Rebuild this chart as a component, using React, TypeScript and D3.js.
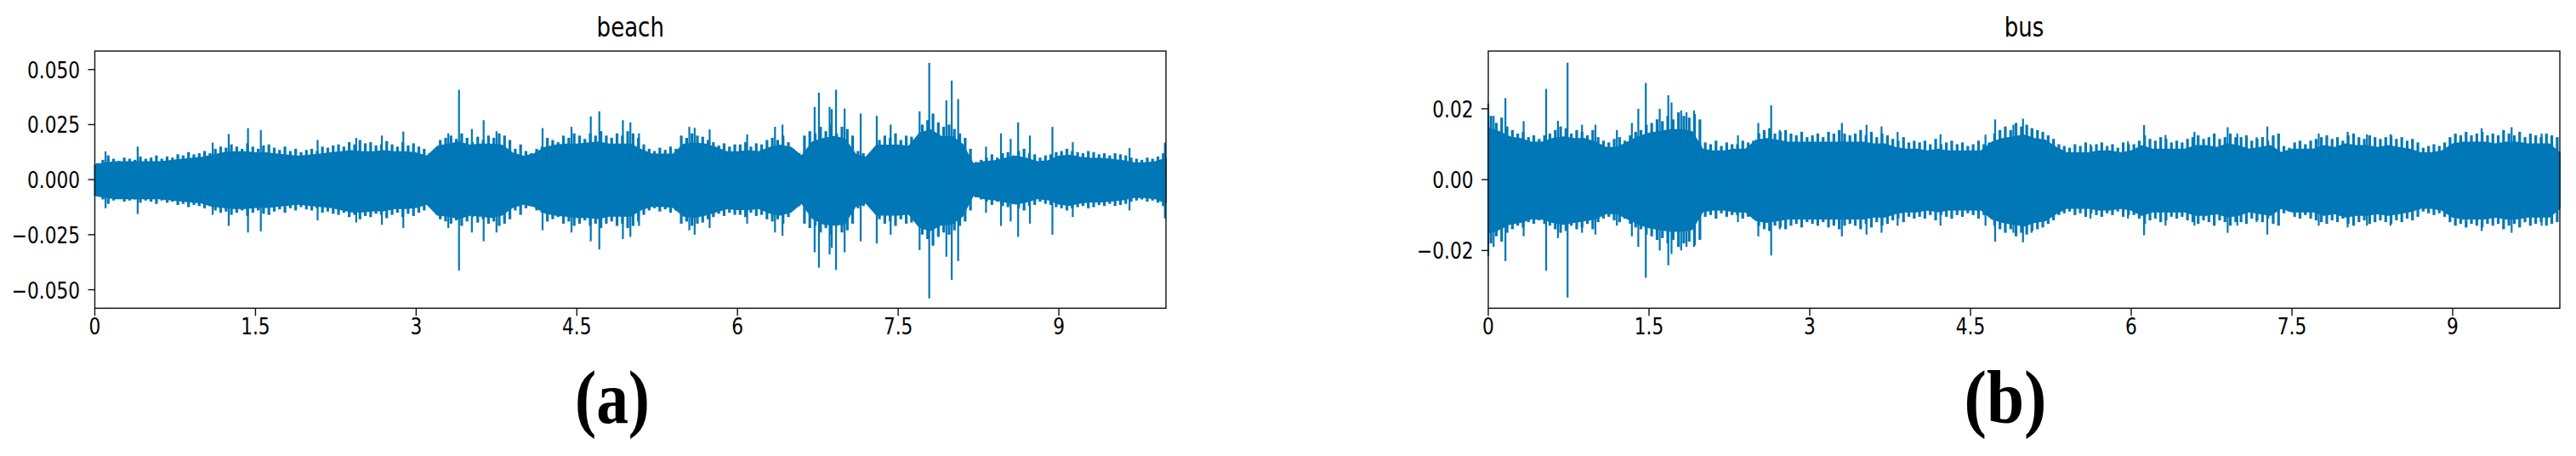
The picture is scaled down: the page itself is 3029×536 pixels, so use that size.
import React from 'react';
import * as d3 from 'd3';

// All amplitude values below are in units of 0.001
const UNIT = 0.001;
const CORE_STEP = 0.1; // seconds between readings of the dense core band
const JAG_STEP = 0.05; // seconds between readings of the fine ragged edge
const JAG_OFFSET = 0.025;

const xTickValues = [0, 1.5, 3, 4.5, 6, 7.5, 9];
const xTickLabels = ['0', '1.5', '3', '4.5', '6', '7.5', '9'];

const beachYTicks = [-0.05, -0.025, 0, 0.025, 0.05];
const busYTicks = [-0.02, 0, 0.02];

// ---------- beach ----------
// dense core band, every 0.1 s from 0 to 10 s
const beachCoreUpper = [
  6.5, 7.5, 8, 8, 8, 8, 8, 8.5, 9, 9.5,
  10, 11, 12, 12.5, 12.5, 12, 12, 11.5, 11, 10.5,
  11, 11.5, 12, 12.5, 13, 12.5, 12.5, 13, 12.5, 12.5,
  12, 10.5, 15, 16, 17, 15.5, 16, 16, 15.5, 12,
  10.5, 11.5, 14.5, 15.5, 16, 16, 16.5, 17, 16, 16,
  16, 13.5, 11.5, 11.5, 11.5, 16, 16.5, 16, 14.5, 12.5,
  12.5, 13, 12.5, 14.5, 15.5, 14.5, 10.5, 17, 18.5, 19.5,
  18.5, 11.5, 10, 15.5, 15.5, 15.5, 15, 21, 22.5, 19.5,
  19.5, 16, 7, 8, 8.5, 9.5, 10.5, 9.5, 8, 8.5,
  10.5, 11, 10, 9.5, 9.5, 9, 8.5, 7.5, 7.5, 8,
  9.5,
];
const beachCoreLower = [
  7, 8, 8.5, 8.5, 8.5, 8.5, 8.5, 9, 9.5, 10,
  10.5, 12, 12.5, 13, 13, 12.5, 12.5, 12, 11.5, 11,
  11.5, 12, 12.5, 13.5, 14.5, 14.5, 14, 14, 13, 13,
  12.5, 11, 16, 16.5, 17.5, 16, 16.5, 17, 16, 12.5,
  11, 12, 15, 16, 16.5, 17, 17, 17.5, 16.5, 16.5,
  16.5, 13.5, 12, 12, 12.5, 16.5, 17, 16, 14.5, 13,
  13.5, 13.5, 13, 15, 16, 14.5, 10.5, 17.5, 20, 20.5,
  20, 12, 10.5, 16, 16, 16, 15.5, 21.5, 23, 20.5,
  20, 16.5, 7, 8.5, 9, 10, 11, 10, 8.5, 9,
  11, 11.5, 10.5, 10, 10, 9.5, 9, 8, 8, 8.5,
  10.5,
];
// ragged edge, every 0.05 s starting at 0.025 s
const beachJags = [
  7.5, 9, 11, 9.5, 8.5, 10, 9.5, 9, 10.5, 9.5, 10, 11, 9.5, 10.5, 10, 11.5, 11, 12.5, 11.5, 12,
  13, 12, 14, 15, 14.5, 16, 15, 14, 16.5, 15, 14, 15.5, 16, 14.5, 13.5, 15, 13, 14, 12.5, 13.5,
  14, 13, 15, 14.5, 15.5, 16, 15, 17, 16, 18, 16.5, 17, 15.5, 16, 17.5, 16, 15, 17, 15.5, 16.5,
  15, 14, 12, 11, 18, 19, 20, 18.5, 21, 19, 17, 19.5, 18, 20, 19, 21, 20, 18, 14, 16,
  13, 12, 14, 15, 19, 18, 17, 20, 19, 21, 20, 18.5, 21, 20, 22, 20, 19, 21, 20, 22,
  21, 19, 16, 14, 13, 14.5, 13.5, 15, 14, 20, 19, 21, 20, 19.5, 18, 17, 15.5, 16.5, 15, 16,
  16, 17, 15, 16.5, 16, 18, 19, 18, 20, 17, 13, 12, 20, 22, 21, 24, 22, 25, 21, 24,
  23, 20, 13, 12, 11, 12.5, 18, 20, 19, 21, 18, 20, 19.5, 18, 25, 27, 30, 26, 24, 25,
  23, 21, 19, 14, 8, 9, 10, 11.5, 10, 12, 12.5, 11, 13, 14, 12, 11.5, 10, 11, 11.5, 12.5,
  13, 14, 13, 12.5, 12, 13, 12.5, 11.5, 12, 11, 12, 11.5, 11, 10, 9.5, 9, 10, 9.5, 10.5, 12,
];
// isolated peaks [time s, top, bottom]
const beachPeaks: [number, number, number][] = [
  [0.1, 12.8, -13], [0.4, 15, -15.6], [1.1, 16.8, -16], [1.25, 20.7, -21],
  [1.43, 23.4, -24], [1.55, 22.5, -23.5], [2.08, 18, -18.5], [2.44, 19, -19.5],
  [2.68, 20, -20.5], [2.88, 21.8, -22], [3.3, 21, -22], [3.4, 40.8, -41.3],
  [3.52, 23, -24], [3.63, 27, -28], [3.75, 22, -24], [4.18, 23.4, -23],
  [4.45, 24, -24], [4.63, 28.7, -28], [4.71, 31, -31.7], [4.93, 27, -27],
  [5.0, 26, -26], [5.08, 21, -21], [5.55, 24, -23], [5.6, 23.5, -25],
  [5.74, 22.8, -22], [6.09, 20.5, -20], [6.35, 24, -24], [6.42, 25, -25.5],
  [6.72, 33, -33], [6.76, 39.5, -40], [6.86, 33, -34], [6.88, 32, -31],
  [6.92, 40.8, -41], [7.0, 32.3, -33], [7.15, 30, -28], [7.3, 29, -29],
  [7.43, 25, -25], [7.7, 31, -32], [7.79, 53, -53.9], [7.95, 36, -35],
  [8.0, 45, -45.5], [8.06, 36.6, -37], [8.32, 15, -15], [8.46, 21, -21],
  [8.55, 18.5, -19], [8.62, 26, -26], [8.73, 20, -20], [8.94, 24, -25],
  [9.13, 17, -17], [9.66, 14.4, -14], [9.99, 16.8, -17.6],
];

// ---------- bus ----------
const busCoreUpper = [
  14.5, 13.5, 12, 11.5, 10.5, 10.5, 11.5, 12, 11.5, 11.5,
  10.5, 9, 9, 10.5, 12, 13, 13.5, 14, 14, 13.5,
  8.5, 8, 8, 8.5, 8.5, 11, 11.5, 11, 10.5, 10.5,
  10.5, 10.5, 10.5, 10.5, 10.5, 10.5, 10, 10, 9, 8.5,
  8.5, 8, 8.5, 8, 8, 8, 8, 10.5, 11.5, 12,
  12.5, 11.5, 11, 9, 7.5, 7.5, 7.5, 8, 8, 7.5,
  8, 9.5, 8.5, 8.5, 8.5, 8.5, 9.5, 9.5, 9, 10,
  9.5, 8.5, 9, 9.5, 7.5, 8.5, 8.5, 8.5, 9.5, 9,
  10, 9.5, 9.5, 9, 9.5, 9, 8.5, 7.5, 7.5, 8,
  10, 10.5, 10.5, 10.5, 10, 10.5, 10.5, 10, 10, 10,
  7.5,
];
const busCoreLower = [
  15, 14, 12.5, 12, 11, 11, 12, 12.5, 12, 11.5,
  11, 9.5, 9.5, 11, 12.5, 13.5, 14, 14.5, 14.5, 14,
  9, 8.5, 8.5, 9, 9, 11.5, 12, 11.5, 11, 11,
  11, 11, 11, 11, 11, 11, 10.5, 10.5, 9.5, 9,
  9, 8.5, 9, 8.5, 8.5, 8.5, 8.5, 11, 12, 12.5,
  13, 12, 11.5, 9.5, 8, 8, 8, 8.5, 8.5, 8,
  8.5, 10, 9, 9, 9, 9, 10, 10, 9.5, 10.5,
  10, 9, 9.5, 10, 8, 9, 9, 9, 10, 9.5,
  10.5, 10, 10, 9.5, 10, 9.5, 9, 8, 8, 8.5,
  10.5, 11, 11, 11, 10.5, 11, 11, 10.5, 10.5, 10.5,
  8,
];
const busJags = [
  18, 16, 17.5, 15, 14, 13, 13.5, 12, 12.5, 11.5, 12.5, 13, 14, 15, 14.5, 13, 14, 13.5, 12.5, 14,
  12, 11, 10.5, 11.5, 12, 11, 12.5, 13.5, 14, 15.5, 16, 17, 16.5, 18, 17, 19, 18, 17.5, 18.5, 17,
  10.5, 10, 11, 9.5, 10.5, 10, 10, 11, 10.5, 11, 13, 14, 14.5, 13, 13.5, 14, 13, 12.5, 13.5, 12,
  12.5, 13, 12, 13.5, 13, 14, 13, 12.5, 13, 14, 12.5, 13.5, 12, 13, 12.5, 11.5, 11, 12, 10.5, 11,
  10.5, 11, 10, 11.5, 10, 10.5, 11, 10, 10.5, 9.5, 10, 11, 10, 10.5, 13, 14, 15, 14, 16, 15,
  15.5, 14.5, 14, 13.5, 12.5, 11.5, 10, 9.5, 9, 10, 9.5, 10.5, 9.5, 10, 10.5, 9.5, 10, 9, 10.5, 10,
  10, 11, 12.5, 11.5, 11, 12, 11.5, 10.5, 11, 10.5, 11.5, 12, 12.5, 11.5, 12, 13, 11.5, 12, 13, 12,
  12, 12.5, 11, 11.5, 12, 11, 12.5, 13, 9.5, 9, 10.5, 11, 10, 11, 11.5, 12, 12.5, 11.5, 12, 11,
  12.5, 13, 12, 11.5, 12.5, 12, 11.5, 12, 12.5, 11.5, 12, 11, 11.5, 10.5, 9, 9.5, 10, 9.5, 10.5, 12,
  13, 12.5, 13.5, 12.5, 13, 13.5, 12.5, 13, 12.5, 14, 13, 12.5, 13.5, 12, 13, 12.5, 12, 13, 12.5, 12,
];
const busPeaks: [number, number, number][] = [
  [0.0, 21.5, -21.6], [0.05, 18, -19], [0.16, 23, -23], [0.33, 16.5, -16],
  [0.54, 25.6, -25.7], [0.65, 16.6, -16.5], [0.74, 33, -33.3], [0.875, 15.5, -15],
  [1.0, 15.5, -15.5], [1.2, 14, -13], [1.34, 16, -16], [1.4, 20, -19],
  [1.47, 27.3, -27.7], [1.6, 20, -20], [1.68, 23.8, -24.2], [1.71, 21.8, -21],
  [1.8, 19.5, -20], [1.85, 19, -19], [1.92, 19.5, -19], [2.33, 12.5, -12],
  [2.52, 16, -16], [2.64, 21, -21.4], [2.72, 14, -14], [3.3, 16, -16],
  [3.53, 15.5, -15.5], [3.67, 15, -15], [3.82, 13.5, -13], [4.22, 12.8, -13],
  [4.64, 12.7, -13], [4.73, 17, -17.5], [4.9, 15.5, -15], [4.99, 17.2, -17.7],
  [5.07, 14.5, -15], [5.62, 10, -11], [5.97, 10.8, -11], [6.12, 15.4, -15.7],
  [6.32, 12.6, -13], [6.59, 13.5, -13], [6.9, 14.8, -15], [6.99, 13, -13],
  [7.17, 12, -12], [7.27, 15, -15.5], [7.75, 13, -13], [8.02, 13.5, -13.5],
  [8.2, 12.8, -13], [8.42, 12.8, -13], [9.27, 14.5, -14.5], [9.55, 14.8, -15],
  [9.83, 13, -13],
];

const BLUE = '#0077b6';
const TXT_SCALE = 0.834;
const TICK_FONT = 26;
const TITLE_FONT = 31.2;
const FONT = '"DejaVu Sans", sans-serif';

type PanelProps = {
  title: string;
  label: string;
  labelX: number;
  labelLen: number;
  left: number;
  right: number;
  yMax: number;
  yTicks: number[];
  yFmt: string;
  coreUpper: number[];
  coreLower: number[];
  jags: number[];
  peaks: [number, number, number][];
};

const TOP = 60;
const BOTTOM = 362.3;

function Panel(p: PanelProps) {
  const x = d3.scaleLinear().domain([0, 10]).range([p.left, p.right]);
  const y = d3.scaleLinear().domain([-p.yMax, p.yMax]).range([BOTTOM, TOP]);
  const fmt = d3.format(p.yFmt);
  const area = d3
    .area<number>()
    .x((_, i) => x(i * CORE_STEP))
    .y0((_, i) => y(-p.coreLower[i] * UNIT))
    .y1((d) => y(d * UNIT));
  const cx = (p.left + p.right) / 2;
  return (
    <g>
      <path d={area(p.coreUpper) || ''} fill={BLUE} stroke={BLUE} strokeWidth={2} strokeLinejoin="round" />
      {p.jags.map((m, i) => {
        const xx = x(JAG_OFFSET + i * JAG_STEP);
        return (
          <line key={'j' + i} x1={xx} x2={xx} y1={y(m * UNIT)} y2={y(-m * UNIT)} stroke={BLUE} strokeWidth={3.2} />
        );
      })}
      {p.peaks.map((d, i) => (
        <line key={i} x1={x(d[0])} x2={x(d[0])} y1={y(d[1] * UNIT)} y2={y(d[2] * UNIT)} stroke={BLUE} strokeWidth={2.2} />
      ))}
      <rect x={p.left} y={TOP} width={p.right - p.left} height={BOTTOM - TOP} fill="none" stroke="#111" strokeWidth={1.4} />
      {p.yTicks.map((t) => (
        <g key={'y' + t}>
          <line x1={p.left - 8} x2={p.left} y1={y(t)} y2={y(t)} stroke="#111" strokeWidth={1.4} />
          <text
            transform={`translate(${p.left - 17.5},${y(t) + 10}) scale(${TXT_SCALE},1)`}
            textAnchor="end"
            fontFamily={FONT}
            fontSize={TICK_FONT}
            fill="#000"
          >
            {fmt(t)}
          </text>
        </g>
      ))}
      {xTickValues.map((t, i) => (
        <g key={'x' + t}>
          <line x1={x(t)} x2={x(t)} y1={BOTTOM} y2={BOTTOM + 9} stroke="#111" strokeWidth={1.4} />
          <text
            transform={`translate(${x(t)},${392.5}) scale(${TXT_SCALE},1)`}
            textAnchor="middle"
            fontFamily={FONT}
            fontSize={TICK_FONT}
            fill="#000"
          >
            {xTickLabels[i]}
          </text>
        </g>
      ))}
      <text
        transform={`translate(${cx},${43.3}) scale(${TXT_SCALE},1)`}
        textAnchor="middle"
        fontFamily={FONT}
        fontSize={TITLE_FONT}
        fill="#000"
      >
        {p.title}
      </text>
      <text
        x={p.labelX}
        y={496.7}
        textAnchor="middle"
        fontFamily='"Liberation Serif", serif'
        fontWeight="bold"
        fontSize={88}
        textLength={p.labelLen}
        lengthAdjust="spacingAndGlyphs"
        fill="#000"
      >
        {p.label}
      </text>
    </g>
  );
}

export default function App() {
  return (
    <svg
      width={3029}
      height={536}
      viewBox="0 0 3029 536"
      style={{ position: 'absolute', left: 0, top: 0, background: '#fff' }}
    >
      <rect x={0} y={0} width={3029} height={536} fill="#fff" />
      <Panel
        title="beach"
        label="(a)"
        labelX={720}
        labelLen={88}
        left={111.5}
        right={1371}
        yMax={0.0584}
        yTicks={beachYTicks}
        yFmt=".3f"
        coreUpper={beachCoreUpper}
        coreLower={beachCoreLower}
        jags={beachJags}
        peaks={beachPeaks}
      />
      <Panel
        title="bus"
        label="(b)"
        labelX={2358}
        labelLen={97}
        left={1750}
        right={3010}
        yMax={0.0363}
        yTicks={busYTicks}
        yFmt=".2f"
        coreUpper={busCoreUpper}
        coreLower={busCoreLower}
        jags={busJags}
        peaks={busPeaks}
      />
    </svg>
  );
}
